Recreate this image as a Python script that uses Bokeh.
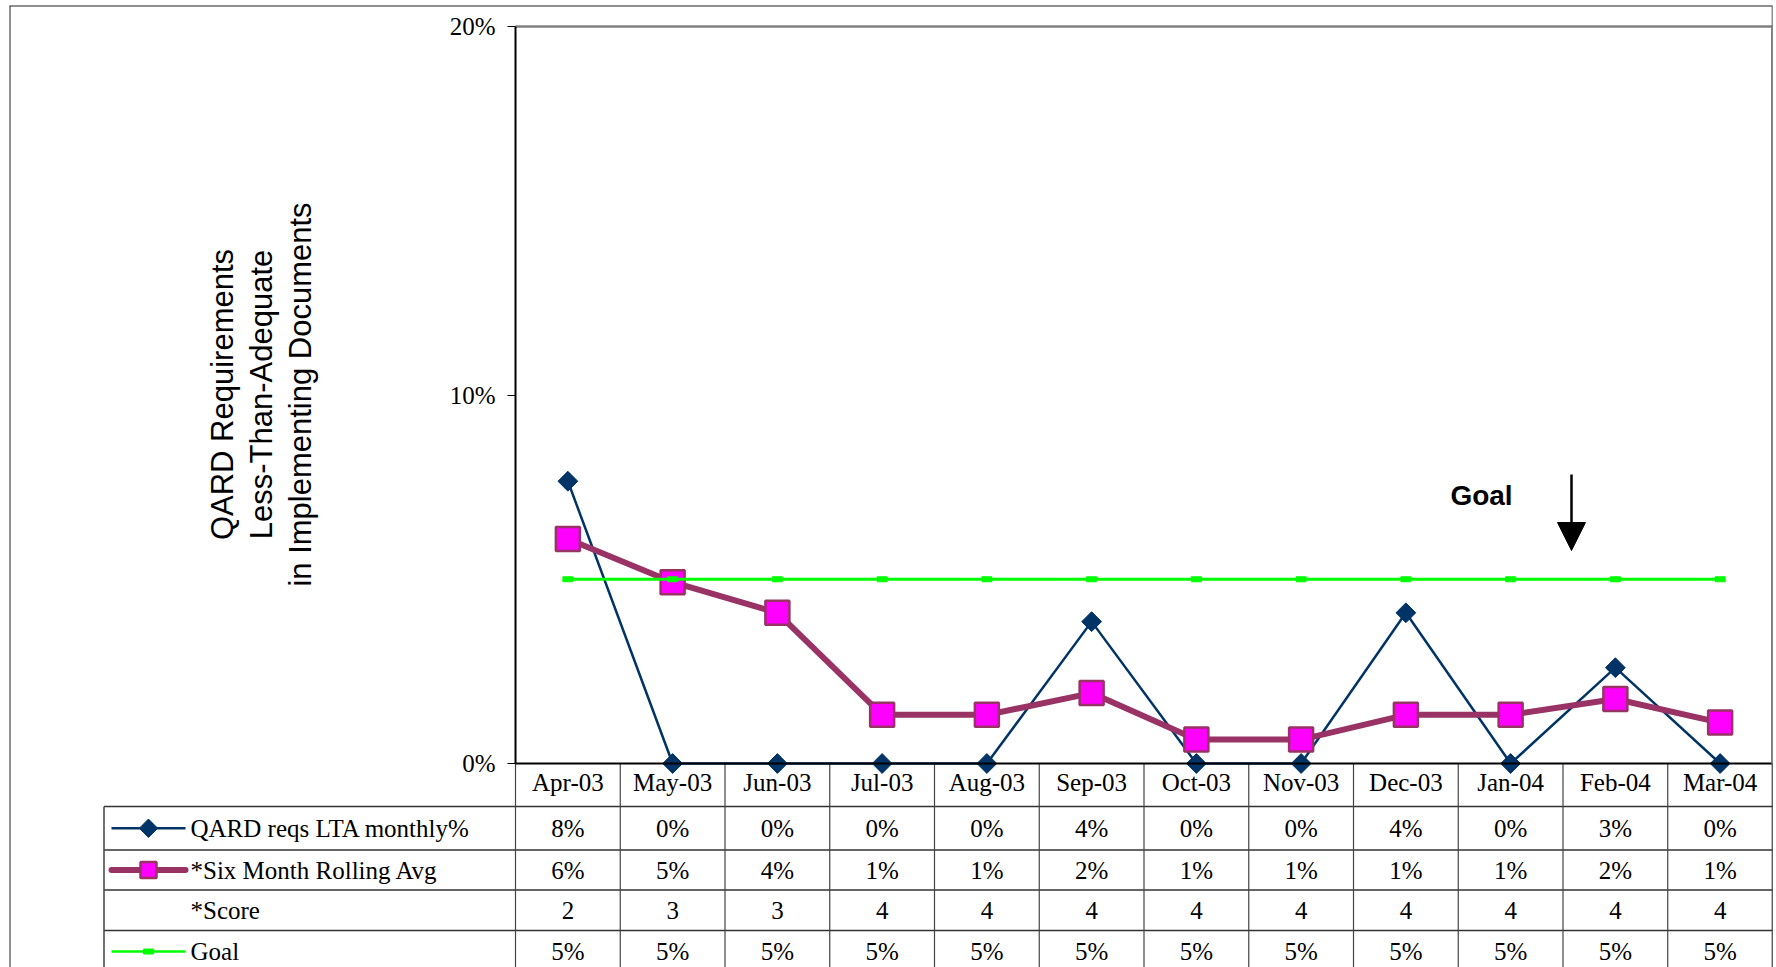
import numpy as np
from bokeh.plotting import figure
from bokeh.models import (Range1d, LinearAxis, FixedTicker, PrintfTickFormatter,
                          Label, Arrow, NormalHead, ColumnDataSource)
from bokeh.core.properties import value
from bokeh.embed import file_html
from bokeh.resources import INLINE

# ---------------- data ----------------
months = ["Apr-03", "May-03", "Jun-03", "Jul-03", "Aug-03", "Sep-03",
          "Oct-03", "Nov-03", "Dec-03", "Jan-04", "Feb-04", "Mar-04"]
monthly = [7.66, 0, 0, 0, 0, 3.85, 0, 0, 4.09, 0, 2.6, 0]
rolling = [6.09, 4.92, 4.09, 1.32, 1.32, 1.91, 0.65, 0.65, 1.32, 1.32, 1.75, 1.11]
score = [2, 3, 3, 4, 4, 4, 4, 4, 4, 4, 4, 4]
goal = [5, 5, 5, 5, 5, 5, 5, 5, 5, 5, 5, 5]
y_ticks = [0, 10, 20]
row_names = ["QARD reqs LTA monthly%", "*Six Month Rolling Avg", "*Score", "Goal"]
y_label_lines = ["QARD Requirements", "Less-Than-Adequate", "in Implementing Documents"]
goal_note = "Goal"

# ---------------- layout (pixels) ----------------
W, H = 1776, 967
PX_LEFT, PX_RIGHT, PX_TOP = 9, 1772, 5
X0_PX, COL_PX = 515, 104.75       # left edge of plot area, column width
Y0_PX, UNIT_PX = 763, 36.85       # y pixel of 0 %, pixels per 1 %

def dx(px):
    return (px - X0_PX) / COL_PX - 0.5

def dy(py):
    return (Y0_PX - py) / UNIT_PX

n = len(months)
xs = list(range(n))
x_start, x_end = dx(PX_LEFT), n - 0.5
y_start, y_end = dy(H), dy(PX_TOP)

SERIF = "Liberation Serif"
SANS = "Liberation Sans"
NAVY = "#003366"
MAROON = "#993366"
MAGENTA = "#FF00FF"
GREEN = "#00FF00"

p = figure(width=W, height=H, x_range=Range1d(x_start, x_end),
           y_range=Range1d(y_start, y_end), output_backend="svg",
           toolbar_location=None, x_axis_type=None, y_axis_type=None,
           min_border_left=PX_LEFT, min_border_right=W - PX_RIGHT,
           min_border_top=PX_TOP, min_border_bottom=0)
p.background_fill_color = "white"
p.border_fill_color = "white"
p.outline_line_color = None


def border(loc, side, bounds, color, width):
    ax = LinearAxis(fixed_location=loc, ticker=FixedTicker(ticks=[]),
                    bounds=bounds, major_label_text_font_size="0px")
    ax.axis_line_color = color
    ax.axis_line_width = width
    p.add_layout(ax, side)


# outer page frame (open at the bottom, as in the cropped original)
border(x_start, "left", (y_start, y_end), "#222222", 2)
border(y_end, "above", (x_start, x_end), "#222222", 2)
border(x_end, "right", (y_start, y_end), "#222222", 1.5)

# ---------------- axes ----------------
yaxis = LinearAxis(fixed_location=-0.5, ticker=FixedTicker(ticks=y_ticks),
                   formatter=PrintfTickFormatter(format="%d%%"), bounds=(0, 20))
yaxis.major_tick_out = 8
yaxis.major_tick_in = 0
yaxis.minor_tick_out = 0
yaxis.minor_tick_in = 0
yaxis.axis_line_width = 2
yaxis.axis_line_color = "black"
yaxis.major_tick_line_color = "black"
yaxis.major_label_text_font = SERIF
yaxis.major_label_text_font_size = "25px"
yaxis.major_label_text_font_style = "normal"
yaxis.major_label_text_color = "black"
yaxis.major_label_standoff = 12
p.add_layout(yaxis, "left")

xaxis = LinearAxis(fixed_location=0, ticker=FixedTicker(ticks=xs),
                   major_label_overrides={i: m for i, m in enumerate(months)},
                   bounds=(-0.5, n - 0.5))
xaxis.major_tick_out = 0
xaxis.major_tick_in = 0
xaxis.minor_tick_out = 0
xaxis.minor_tick_in = 0
xaxis.axis_line_width = 2
xaxis.axis_line_color = "black"
xaxis.major_label_text_font = SERIF
xaxis.major_label_text_font_size = "25px"
xaxis.major_label_text_font_style = "normal"
xaxis.major_label_text_color = "black"
xaxis.major_label_standoff = 5
p.add_layout(xaxis, "below")

# plot-area border
border(20, "above", (-0.5, n - 0.5), "#808080", 2.5)
border(n - 0.5, "right", (0, 20), "#808080", 3)

# ---------------- data table grid ----------------
row_px = [763, 806, 849.5, 889.5, 930, 972]
row_y = [dy(v) for v in row_px]
row_centers = [(row_y[i] + row_y[i + 1]) / 2 for i in range(len(row_y) - 1)]
table_left = dx(103.5)

h_x0, h_x1, h_y = [], [], []
for yb in row_y[1:-1]:
    h_x0.append(table_left)
    h_x1.append(n - 0.5)
    h_y.append(yb)
p.segment(x0=h_x0, y0=h_y, x1=h_x1, y1=h_y, line_color="#333333", line_width=1.5)

v_x = [k - 0.5 for k in range(n + 1)]
p.segment(x0=v_x, y0=[0] * len(v_x), x1=v_x, y1=[y_start] * len(v_x),
          line_color="#444444", line_width=1.2)
p.segment(x0=[table_left], y0=[row_y[1]], x1=[table_left], y1=[y_start],
          line_color="#444444", line_width=1.5)

# ---------------- series ----------------
src = ColumnDataSource(dict(x=xs, monthly=monthly, rolling=rolling, goal=goal))
p.line("x", "monthly", source=src, line_color=NAVY, line_width=2.5)
p.scatter("x", "monthly", source=src, marker="square", angle=np.pi / 4, size=14,
          fill_color=NAVY, line_color=NAVY)
p.line("x", "rolling", source=src, line_color=MAROON, line_width=6)
p.scatter("x", "rolling", source=src, marker="square", size=24,
          fill_color=MAGENTA, line_color=MAROON, line_width=2.5)
p.line("x", "goal", source=src, line_color=GREEN, line_width=3)
p.rect("x", "goal", source=src, width=10, height=5, width_units="screen",
       height_units="screen", fill_color=GREEN, line_color=GREEN)

# ---------------- table texts ----------------
rows_text = [
    [f"{round(v)}%" for v in monthly],
    [f"{round(v)}%" for v in rolling],
    [str(v) for v in score],
    [f"{round(v)}%" for v in goal],
]
tx, ty, tt = [], [], []
for r, labels in enumerate(rows_text):
    for i, lab in enumerate(labels):
        tx.append(xs[i])
        ty.append(row_centers[r + 1])
        tt.append(lab)
p.text(x=tx, y=ty, text=tt, text_font=value(SERIF), text_font_size="25px",
       text_align="center", text_baseline="middle", text_color="black")

name_x = dx(190)
p.text(x=[name_x] * len(row_names), y=row_centers[1:], text=row_names,
       text_font=value(SERIF), text_font_size="25px", text_align="left",
       text_baseline="middle", text_color="black")

# legend keys in table
key_x0, key_x1, key_xc = dx(111), dx(185), dx(148)
p.segment(x0=[key_x0], y0=[row_centers[1]], x1=[key_x1], y1=[row_centers[1]],
          line_color=NAVY, line_width=2.5)
p.scatter(x=[key_xc], y=[row_centers[1]], marker="square", angle=np.pi / 4, size=13,
          fill_color=NAVY, line_color=NAVY)
p.segment(x0=[key_x0], y0=[row_centers[2]], x1=[key_x1], y1=[row_centers[2]],
          line_color=MAROON, line_width=6, line_cap="round")
p.scatter(x=[key_xc], y=[row_centers[2]], marker="square", size=16,
          fill_color=MAGENTA, line_color=MAROON, line_width=2.5)
p.segment(x0=[key_x0], y0=[row_centers[4]], x1=[key_x1], y1=[row_centers[4]],
          line_color=GREEN, line_width=2.5)
p.rect(x=[key_xc], y=[row_centers[4]], width=10, height=5, width_units="screen",
       height_units="screen", fill_color=GREEN, line_color=GREEN)

# ---------------- y label ----------------
for lx_px, txt in zip([222, 261, 300], y_label_lines):
    p.add_layout(Label(x=dx(lx_px), y=dy(394), text=txt, angle=np.pi / 2,
                       text_font=SANS, text_font_size="31px", text_align="center",
                       text_baseline="middle", text_color="black"))

# ---------------- goal annotation ----------------
p.add_layout(Label(x=dx(1481), y=dy(495), text=goal_note, text_font=SANS,
                   text_font_size="28px", text_font_style="bold",
                   text_align="center", text_baseline="middle", text_color="black"))
p.add_layout(Arrow(x_start=dx(1571), y_start=dy(474), x_end=dx(1571), y_end=dy(550),
                   line_color="black", line_width=2.5,
                   end=NormalHead(size=28, fill_color="black", line_color="black")))

open("out.html", "w").write(file_html(p, INLINE))
